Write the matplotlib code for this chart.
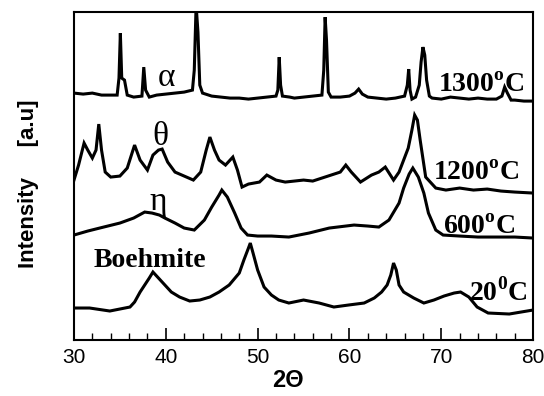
import matplotlib
matplotlib.use("Agg")
import matplotlib.pyplot as plt
from matplotlib.ticker import MultipleLocator

# XRD patterns (2theta, intensity a.u. incl. vertical offset)
tt_1300 = [30, 31, 32, 33, 34, 34.7, 34.9, 35.05, 35.2, 35.5, 35.8, 36.5, 37.4, 37.6, 37.8, 38.2,
           39, 40, 41, 42, 42.9, 43.1, 43.3, 43.5, 43.7, 44.0, 45, 46, 47, 48, 49, 50, 51, 52,
           52.2, 52.35, 52.5, 52.7, 53.5, 54, 55, 56, 57, 57.2, 57.35, 57.5, 57.7, 58, 59, 60,
           60.6, 61, 61.4, 62, 63, 64, 65, 66, 66.3, 66.45, 66.6, 66.8, 67.2, 67.6, 67.8, 68.0,
           68.2, 68.4, 68.7, 69, 70, 71, 72, 73, 74, 75, 76, 76.6, 76.9, 77.2, 77.6, 78, 79, 80]
i_1300 = [247, 246, 247, 245, 245, 245, 262, 307, 262, 260, 245, 243, 244, 273, 250, 243,
          245, 246, 247, 248, 250, 270, 335, 308, 255, 247, 244, 243, 242, 242, 241, 242, 243, 244,
          250, 283, 255, 244, 243, 242, 243, 244, 245, 270, 323, 300, 248, 243, 243, 244,
          247, 251, 246, 243, 242, 241, 242, 244, 255, 271, 250, 241, 243, 255, 278, 293,
          285, 260, 244, 242, 241, 243, 242, 241, 242, 241, 241, 244, 253, 247, 240, 240, 239, 239]

tt_1200 = [30, 30.5, 31.1, 31.5, 32, 32.4, 32.7, 33.0, 33.4, 34, 35, 35.8, 36.6, 37.2, 38, 38.6,
           39.2, 39.6, 40.2, 41, 42, 43, 43.8, 44.4, 44.8, 45.3, 45.8, 46.5, 47.3, 47.8, 48.3,
           49, 50.2, 51, 52, 53, 54, 55, 56, 57, 58, 59, 59.6, 60.2, 61.2, 62.4, 63.2, 63.9,
           64.8, 65.4, 65.9, 66.4, 66.8, 67.1, 67.4, 67.7, 68.3, 69.4, 70.5, 72, 73.5, 75, 76.5,
           78, 80]
i_1200 = [160, 175, 197, 190, 182, 190, 216, 190, 168, 163, 164, 172, 195, 180, 170, 185,
          190, 191, 178, 168, 164, 160, 168, 190, 203, 190, 180, 175, 183, 170, 153,
          156, 158, 165, 160, 158, 159, 160, 159, 162, 165, 168, 175, 168, 158, 165, 168, 173,
          160, 168, 180, 192, 210, 225, 220, 200, 163, 152, 150, 152, 150, 151, 149,
          148, 147]

tt_600 = [30, 31.5, 32.8, 35, 36.5, 37.7, 38.5, 39.3, 39.9, 41, 42, 43.1, 44.2, 45, 45.8, 46.1,
          46.7, 47.5, 48.2, 48.9, 50, 51.5, 53.4, 55.6, 57.8, 60.5, 62, 63.2, 64.3, 65.4, 65.9,
          66.5, 66.9, 67.5, 68.1, 68.6, 69.4, 70.2, 72, 74, 76, 78, 80]
i_600 = [105, 109, 112, 117, 122, 128, 127, 125, 122, 117, 112, 110, 120, 133, 145, 150,
         143, 127, 112, 105, 104, 104, 103, 107, 112, 115, 114, 113, 120, 137, 152,
         166, 172, 163, 147, 127, 110, 105, 104, 103, 103, 103, 102]

tt_20 = [30, 31.7, 33.9, 36.1, 36.6, 37.2, 37.7, 38.2, 38.6, 39.1, 39.9, 40.6, 41.5, 42.6, 43.7,
         44.8, 45.8, 46.9, 48.0, 48.5, 49.0, 49.2, 49.5, 50.0, 50.7, 51.5, 52.3, 53.4, 55, 56.7,
         58.3, 59.9, 61.6, 62.7, 63.5, 64.1, 64.5, 64.8, 65.1, 65.4, 65.9, 67, 68.1, 69.2, 70.3,
         71.4, 72.1, 73, 73.9, 75.1, 77.4, 80]
i_20 = [32, 32, 29, 33, 38, 48, 55, 62, 68, 63, 55, 48, 43, 39, 40,
        43, 48, 55, 67, 80, 92, 97, 87, 70, 53, 45, 40, 37, 40, 37,
        33, 35, 37, 42, 48, 55, 65, 77, 70, 55, 48, 42, 37, 40, 44,
        47, 48, 43, 33, 27, 26, 30]

plt.rcParams['mathtext.fontset'] = 'custom'
plt.rcParams['mathtext.rm'] = 'Liberation Serif:bold'

fig = plt.figure(figsize=(5.44, 3.96), dpi=100)
ax = fig.add_axes([0.136, 0.1414, 0.844, 0.828])

for x, y in [(tt_1300, i_1300), (tt_1200, i_1200), (tt_600, i_600), (tt_20, i_20)]:
    ax.plot(x, y, color="black", lw=2.2, solid_joinstyle="miter")

ax.set_xlim(30, 80)
ax.set_ylim(0, 328)
ax.set_yticks([])
ax.xaxis.set_major_locator(MultipleLocator(10))
ax.xaxis.set_minor_locator(MultipleLocator(2))
ax.tick_params(axis="x", which="major", direction="in", length=9, width=1.2, top=False,
               labelsize=15, pad=6)
ax.tick_params(axis="x", which="minor", direction="in", length=5, width=1, top=False)
for lab in ax.get_xticklabels():
    lab.set_fontfamily("Liberation Sans")
for s in ax.spines.values():
    s.set_linewidth(1.5)

fig.text(0.53, 0.038, "2Θ", fontfamily="Liberation Sans", fontweight="bold", fontsize=17,
         ha="center", va="center")
fig.text(0.053, 0.535, "Intensity     [a.u]", fontfamily="Liberation Sans", fontweight="bold",
         fontsize=16, rotation=90, ha="center", va="center")

serif = dict(fontfamily="Liberation Serif", fontweight="bold", fontsize=20, va="center")
ax.text(69.6, 255, "1300$^{\\rm o}$C", **serif)
ax.text(69.1, 167, "1200$^{\\rm o}$C", **serif)
ax.text(70.2, 113, "600$^{\\rm o}$C", **serif)
ax.text(73.0, 48, "20$^{\\rm 0}$C", **serif)
ax.text(32.1, 80, "Boehmite", **serif)

greek = dict(fontfamily="Liberation Serif", fontsize=24, ha="center", va="center")
ax.text(40.1, 262, "α", **greek)
ax.text(39.4, 203, "θ", **greek)
ax.text(39.2, 138, "η", **greek)

fig.savefig("out.png", dpi=100)
